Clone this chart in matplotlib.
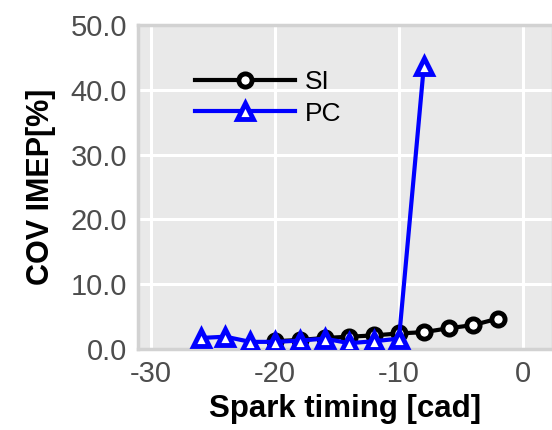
import numpy as np
import matplotlib.pyplot as plt

# spark timing sweep [cad] and COV of IMEP [%]
si_timing = [-20, -18, -16, -14, -12, -10, -8, -6, -4, -2]
si_cov = [1.2, 1.4, 1.7, 1.9, 2.1, 2.4, 2.6, 3.2, 3.7, 4.7]

pc_timing = [-26, -24, -22, -20, -18, -16, -14, -12, -10, -8]
pc_cov = [1.7, 1.9, 1.1, 1.1, 1.3, 1.6, 0.9, 1.2, 1.6, 43.6]

plt.rcParams['font.family'] = ['Liberation Sans', 'DejaVu Sans']
plt.rcParams['axes.unicode_minus'] = False

fig = plt.figure(figsize=(5.52, 4.30), dpi=100)
ax = fig.add_axes([138 / 552, 81 / 430, 415 / 552, 324 / 430])
ax.set_facecolor('#E9E9E9')
for side in ax.spines.values():
    side.set_color('#D2D2D2')
    side.set_linewidth(2.5)

ax.grid(True, color='white', linewidth=2.2)
ax.set_axisbelow(True)

ax.plot(si_timing, si_cov, color='black', lw=3, marker='o', ms=9.5,
        mfc='white', mec='black', mew=3.5, label='SI', zorder=3)
ax.plot(pc_timing, pc_cov, color='blue', lw=3, marker='^', ms=11,
        mfc='white', mec='blue', mew=3.5, label='PC', zorder=4)

ax.set_xlim(-31.05, 2.42)
ax.set_ylim(0, 50)
ax.set_xticks([-30, -20, -10, 0])
ax.set_yticks(np.arange(0, 51, 10))
ax.set_yticklabels(['%.1f' % v for v in np.arange(0, 51, 10)])
ax.tick_params(length=0, labelsize=21, labelcolor='#4D4D4D', pad=8)

ax.set_xlabel('Spark timing [cad]', fontsize=22.5, fontweight='bold', labelpad=4)
ax.set_ylabel('COV IMEP[%]', fontsize=22, fontweight='bold', labelpad=10)

ax.legend(loc='upper left', bbox_to_anchor=(0.08, 0.935), frameon=False,
          fontsize=19, handlelength=3.8, labelspacing=0.3, handletextpad=0.35)

fig.savefig('out.png', dpi=100)
